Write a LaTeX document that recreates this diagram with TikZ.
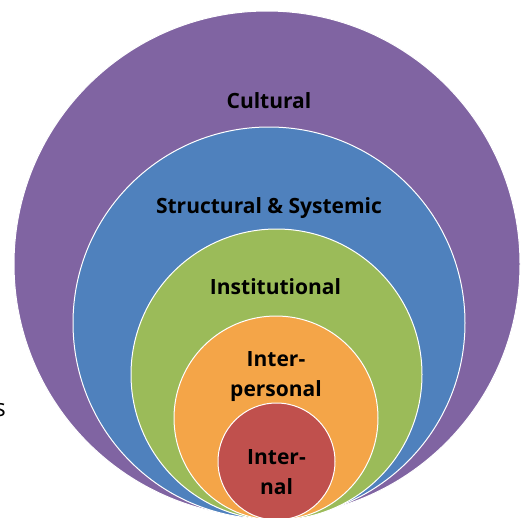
\documentclass[tikz,border=0pt]{standalone}
\usepackage{fontspec}
\setmainfont{Open Sans}
\definecolor{cpurple}{HTML}{8064A2}
\definecolor{cblue}{HTML}{4F81BD}
\definecolor{cgreen}{HTML}{9BBB59}
\definecolor{corange}{HTML}{F4A548}
\definecolor{cred}{HTML}{C0504D}
\begin{document}
\begin{tikzpicture}[x=1pt,y=-1pt,
  ring/.style={circle, draw=white, line width=1pt, inner sep=0pt},
  lbl/.style={font=\fontsize{21}{30}\selectfont\bfseries, text=black, align=center, inner sep=0pt}]
\useasboundingbox (0,0) rectangle (522,517);
\node[ring, fill=cpurple, minimum size=506pt] (cult) at (267,264) {};
\node[ring, fill=cblue, minimum size=392pt] (struct) at (269,323) {};
\node[ring, fill=cgreen, minimum size=291pt] (inst) at (276.5,374.5) {};
\node[ring, fill=corange, minimum size=204pt] (inter) at (276,418) {};
\node[ring, fill=cred, minimum size=117pt] (intern) at (276.5,461.5) {};
\node[lbl] (tcult) at (269,101) {Cultural};
\node[lbl] (tstruct) at (269,208) {Structural \& Systemic};
\node[lbl] (tinst) at (275.5,287) {Institutional};
\node[lbl, text width=120pt] (tinter) at (276,377) {Inter-\\personal};
\node[lbl, text width=100pt] (tintern) at (276.5,472) {Inter-\\nal};
\node[anchor=east, inner sep=0pt, font=\fontsize{24}{28}\selectfont] (s) at (6,410) {s};
\end{tikzpicture}
\end{document}
